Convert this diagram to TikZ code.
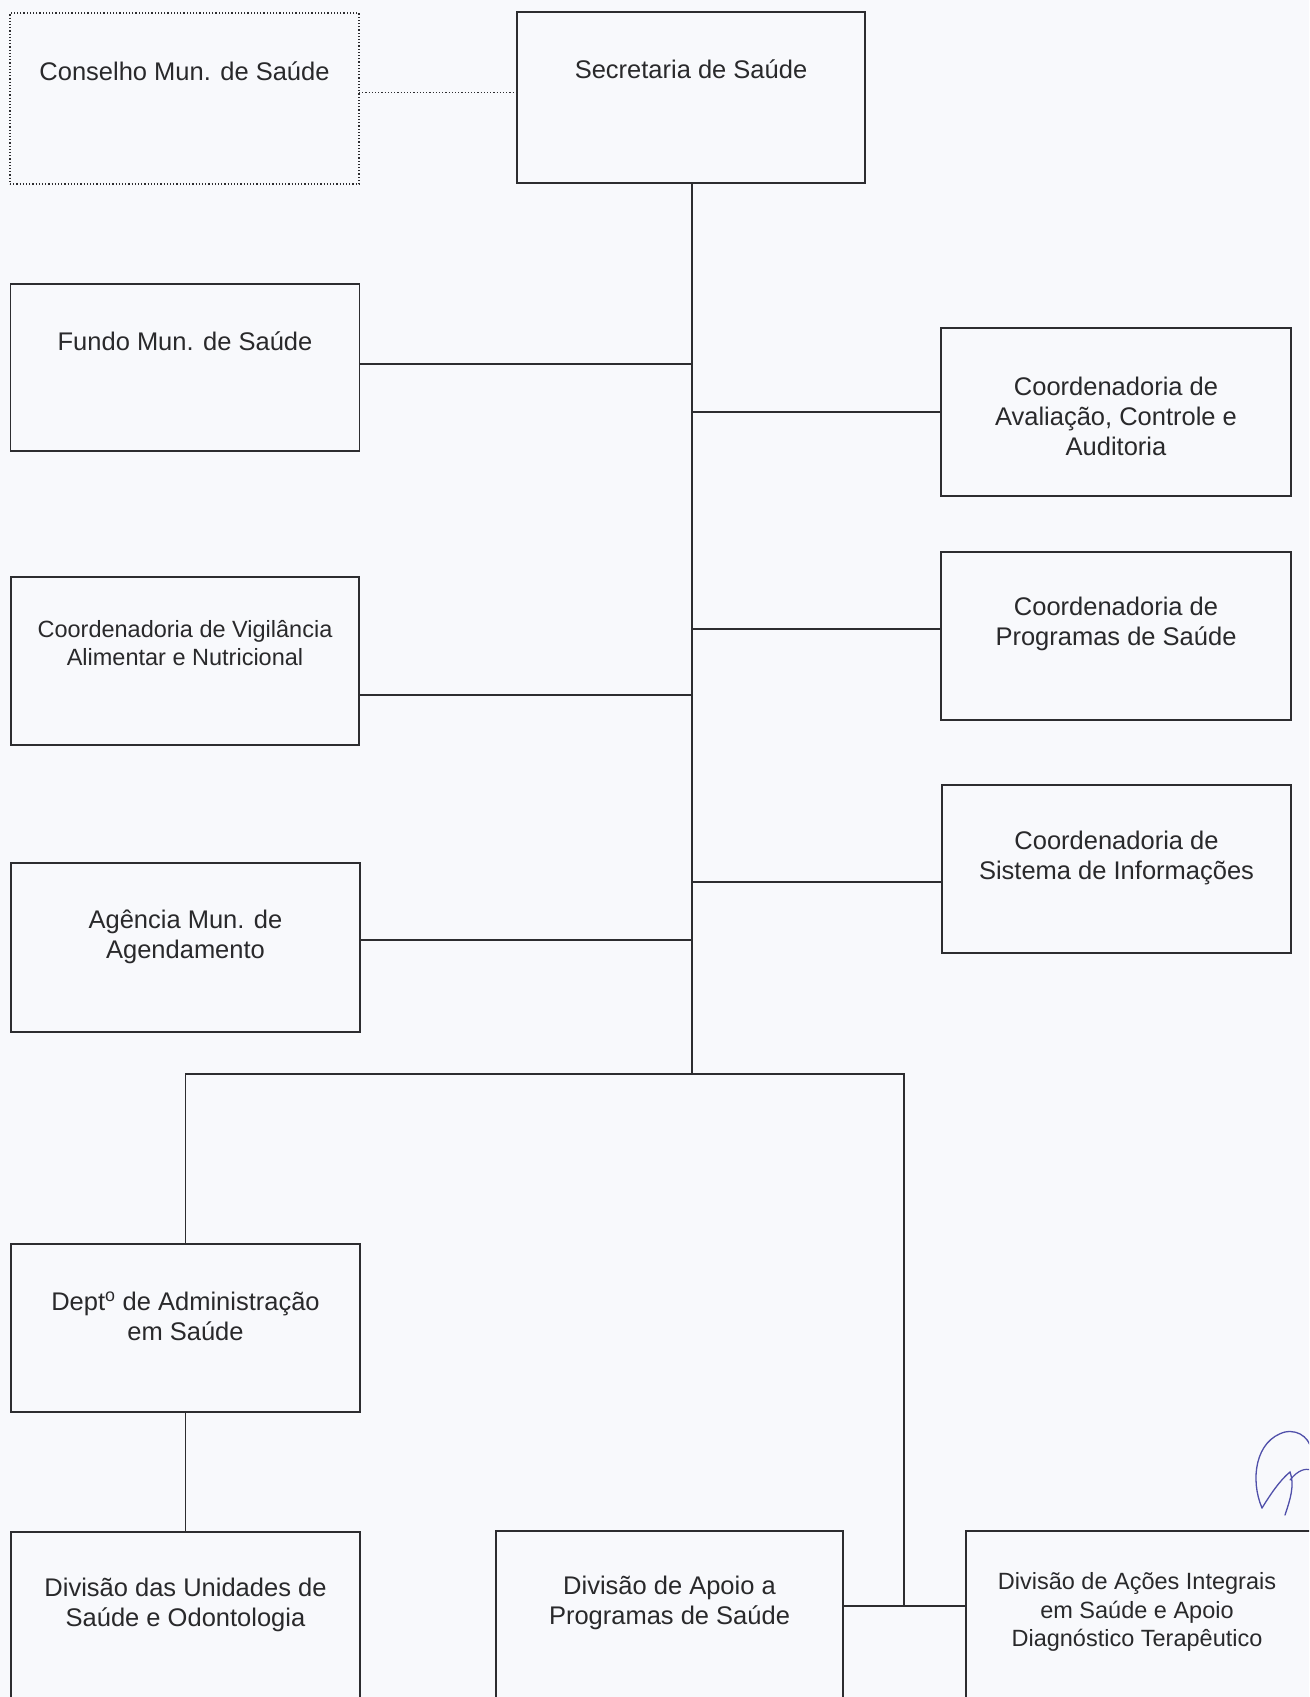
\documentclass[tikz,border=0pt]{standalone}
\usepackage{fontspec}
\setmainfont{Liberation Sans}
\definecolor{paper}{RGB}{248,249,252}
\definecolor{ink}{RGB}{45,45,48}
\definecolor{pen}{RGB}{80,80,170}
\tikzset{
  orgbox/.style={draw=ink, line width=1.8pt, inner sep=0pt, outer sep=0pt, fill=none},
  dotbox/.style={draw=ink, line width=1.2pt, dotted, inner sep=0pt, outer sep=0pt},
  lbl/.style={font=\fontsize{25.5}{30}\selectfont, align=center, inner sep=0pt, text=ink!90!black},
  lblsmall/.style={font=\fontsize{23.5}{28.5}\selectfont, align=center, inner sep=0pt, text=ink!90!black},
  link/.style={draw=ink, line width=1.8pt},
  dotlink/.style={draw=ink, line width=1.2pt, dotted}
}
\begin{document}
\begin{tikzpicture}[x=1pt,y=-1pt]
\useasboundingbox (0,0) rectangle (1309,1697);
\fill[paper] (0,0) rectangle (1309,1697);
\clip (0,0) rectangle (1309,1697);

% boxes
\node[dotbox, minimum width=349pt, minimum height=171pt] (cons) at (184.5,98.5) {};
\node[orgbox, minimum width=348pt, minimum height=171pt] (sec) at (691,97.5) {};
\node[orgbox, minimum width=349pt, minimum height=167pt] (fundo) at (185,367.5) {};
\node[orgbox, minimum width=350pt, minimum height=168pt] (aval) at (1116,412) {};
\node[orgbox, minimum width=348pt, minimum height=168pt] (vig) at (185,661) {};
\node[orgbox, minimum width=350pt, minimum height=168pt] (prog) at (1116,636) {};
\node[orgbox, minimum width=349pt, minimum height=168pt] (sist) at (1116.5,869) {};
\node[orgbox, minimum width=349pt, minimum height=169pt] (agen) at (185.5,947.5) {};
\node[orgbox, minimum width=349pt, minimum height=168pt] (dept) at (185.5,1328) {};
\node[orgbox, minimum width=349pt, minimum height=240pt] (unid) at (185.5,1652) {};
\node[orgbox, minimum width=347pt, minimum height=240pt] (apoio) at (669.5,1651) {};
\node[orgbox, minimum width=374pt, minimum height=240pt] (acoes) at (1153,1651) {};

% texts
\node[lbl] (tcons) at (184.5,71) {Conselho Mun. de Saúde};
\node[lbl] (tsec) at (691,69) {Secretaria de Saúde};
\node[lbl] (tfundo) at (185,341) {Fundo Mun. de Saúde};
\node[lbl] (taval) at (1116,416) {Coordenadoria de\\Avaliação, Controle e\\Auditoria};
\node[lblsmall] (tvig) at (185,643) {Coordenadoria de Vigilância\\Alimentar e Nutricional};
\node[lbl] (tprog) at (1116,624) {Coordenadoria de\\Programas de Saúde};
\node[lbl] (tsist) at (1116.5,857.5) {Coordenadoria de\\Sistema de Informações};
\node[lbl] (tagen) at (185.5,937) {Agência Mun. de\\Agendamento};
\node[lbl] (tdept) at (185.5,1316) {Dept\textsuperscript{o} de Administração\\em Saúde};
\node[lbl] (tunid) at (185.5,1604.5) {Divisão das Unidades de\\Saúde e Odontologia};
\node[lbl] (tapoio) at (669.5,1603) {Divisão de Apoio a\\Programas de Saúde};
\node[lblsmall] (tacoes) at (1137,1612) {Divisão de Ações Integrais\\em Saúde e Apoio\\Diagnóstico Terapêutico};

% junction coordinates
\coordinate (jcons) at (438,92.5);
\coordinate (jfundo) at (692,364);
\coordinate (javal) at (692,412);
\coordinate (jprog) at (692,629);
\coordinate (jvig) at (692,695);
\coordinate (jsist) at (692,882);
\coordinate (jagen) at (692,940);
\coordinate (jbar) at (692,1074);
\coordinate (jbarR) at (904,1074);
\coordinate (jlow) at (904,1606);

% connectors
\draw[dotlink] (jcons -| cons.east) -- (jcons -| sec.west);
\draw[link] (sec.south -| jbar) -- (jbar);
\draw[link] (jfundo -| fundo.east) -- (jfundo);
\draw[link] (javal) -- (javal -| aval.west);
\draw[link] (jprog) -- (jprog -| prog.west);
\draw[link] (jvig -| vig.east) -- (jvig);
\draw[link] (jsist) -- (jsist -| sist.west);
\draw[link] (jagen -| agen.east) -- (jagen);
\draw[link] (dept.north) |- (jbarR) -- (jlow);
\draw[link] (dept.south) -- (unid.north);
\draw[link] (jlow -| apoio.east) -- (jlow -| acoes.west);

% signature
\draw[pen, line width=1.3pt, line cap=round] (1262,1508) .. controls (1250,1480) and (1255,1440) .. (1285,1432)
  .. controls (1300,1429) and (1312,1440) .. (1312,1455);
\draw[pen, line width=1.3pt, line cap=round] (1262,1508) .. controls (1270,1495) and (1280,1480) .. (1290,1472)
  .. controls (1295,1485) and (1290,1500) .. (1285,1515);
\draw[pen, line width=1.2pt, line cap=round] (1290,1480) .. controls (1298,1470) and (1305,1468) .. (1312,1470);
\end{tikzpicture}
\end{document}
